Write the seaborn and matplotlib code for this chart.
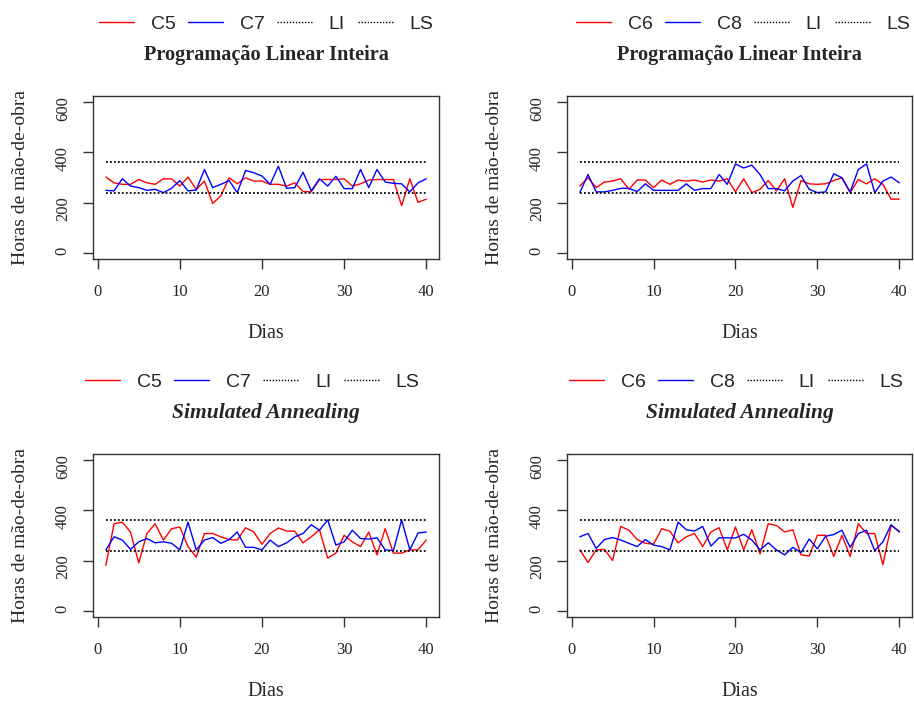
#!/usr/bin/env python3
# -*- coding: utf-8 -*-
"""
Horas de mão-de-obra por dia - comparação PLI x Simulated Annealing
(4 painéis, estilo gráfico base do R)
"""

import pandas as pd
import seaborn as sns
from matplotlib import pyplot as plt
from matplotlib.lines import Line2D

sns.set_theme(style="white")
plt.rcParams["font.family"] = ["Liberation Serif", "DejaVu Serif"]

DIAS = list(range(1, 41))
LI = 240
LS = 360

# Programação Linear Inteira
C5_PLI = [302, 279, 273, 273, 292, 279, 273, 295, 295, 266, 302, 253, 286, 197, 227, 299, 275, 299, 286, 286,
          273, 273, 266, 279, 244, 243, 292, 292, 292, 295, 266, 275, 290, 292, 292, 292, 188, 295, 201, 214]
C7_PLI = [249, 247, 295, 266, 260, 249, 253, 240, 257, 288, 247, 250, 332, 260, 273, 288, 240, 328, 319, 306,
          273, 345, 257, 260, 321, 247, 295, 266, 305, 256, 256, 332, 260, 332, 282, 277, 275, 243, 279, 295]
C6_PLI = [266, 299, 260, 282, 286, 295, 253, 290, 290, 260, 290, 273, 290, 286, 290, 282, 290, 286, 295, 243,
          295, 240, 253, 288, 247, 295, 181, 288, 275, 273, 275, 288, 299, 240, 292, 275, 295, 273, 214, 214]
C8_PLI = [240, 312, 243, 243, 249, 257, 257, 244, 275, 249, 249, 249, 249, 275, 249, 256, 256, 312, 273, 354,
          338, 349, 312, 256, 256, 247, 286, 308, 253, 240, 243, 315, 299, 243, 332, 354, 240, 286, 302, 279]

# Simulated Annealing
C5_SA = [181, 347, 353, 314, 191, 308, 347, 282, 327, 334, 256, 214, 308, 308, 295, 284, 282, 331, 314, 265,
         308, 330, 318, 317, 271, 295, 323, 210, 230, 301, 275, 256, 314, 223, 327, 230, 230, 243, 243, 282]
C7_SA = [243, 295, 282, 245, 275, 288, 271, 275, 269, 243, 353, 243, 282, 292, 269, 284, 314, 253, 253, 243,
         282, 256, 271, 295, 308, 343, 321, 362, 262, 275, 321, 288, 286, 291, 243, 240, 362, 243, 310, 314]
C6_SA = [243, 193, 243, 245, 201, 336, 321, 284, 269, 266, 327, 317, 271, 295, 308, 256, 314, 331, 243, 334,
         243, 323, 227, 347, 340, 314, 323, 223, 219, 301, 301, 217, 301, 217, 347, 308, 308, 184, 340, 317]
C8_SA = [295, 308, 249, 284, 292, 282, 269, 256, 284, 262, 256, 243, 353, 323, 318, 336, 258, 291, 291, 290,
         305, 282, 243, 271, 243, 223, 253, 232, 286, 247, 297, 304, 321, 253, 308, 321, 240, 275, 343, 314]

TITULO_PLI = "Programação Linear Inteira"
TITULO_SA = "Simulated Annealing"

# (nome1, serie1, nome2, serie2, titulo, italico, [left, bottom, width, height], centro da legenda)
PAINEIS = [
    ("C5", C5_PLI, "C7", C7_PLI, TITULO_PLI, False, [0.1018, 0.6305, 0.3786, 0.2325], 0.50),
    ("C6", C6_PLI, "C8", C8_PLI, TITULO_PLI, False, [0.6204, 0.6305, 0.3775, 0.2325], 0.51),
    ("C5", C5_SA, "C7", C7_SA, TITULO_SA, True, [0.1018, 0.1198, 0.3786, 0.2325], 0.46),
    ("C6", C6_SA, "C8", C8_SA, TITULO_SA, True, [0.6204, 0.1198, 0.3775, 0.2325], 0.49),
]


def desenha_painel(fig, nome1, s1, nome2, s2, titulo, italico, pos, leg_x):
    ax = fig.add_axes(pos)
    df = pd.DataFrame({
        "Dia": DIAS + DIAS,
        "Horas": s1 + s2,
        "Serie": [nome1] * len(DIAS) + [nome2] * len(DIAS),
    })
    sns.lineplot(data=df, x="Dia", y="Horas", hue="Serie",
                 palette={nome1: "#ff0000", nome2: "#0000ff"},
                 legend=False, linewidth=1.0, ax=ax)
    ax.hlines([LI, LS], DIAS[0], DIAS[-1], colors="black",
              linestyles=[(0, (1, 1.2))], linewidth=1.3)

    ax.set_xlim(-0.56, 41.56)
    ax.set_ylim(-24, 624)
    ax.set_xticks([0, 10, 20, 30, 40])
    ax.set_yticks([0, 200, 400, 600])
    ax.tick_params(axis="both", direction="out", length=7, width=1, color="#333333",
                   labelsize=12, bottom=True, left=True)
    ax.tick_params(axis="x", pad=11)
    ax.tick_params(axis="y", pad=9, labelrotation=90)
    for sp in ax.spines.values():
        sp.set_color("#333333")
        sp.set_linewidth(1.0)
    ax.set_xlabel("")
    ax.set_ylabel("")
    ax.text(0.5, -0.454, "Dias", transform=ax.transAxes, ha="center", va="center", fontsize=14.5)
    ax.text(-0.211, 0.5, "Horas de mão-de-obra", transform=ax.transAxes, ha="center", va="center",
            rotation=90, fontsize=14)
    ax.text(0.5, 1.25, titulo, transform=ax.transAxes, ha="center", va="center",
            fontsize=15.5 if italico else 14.6,
            fontweight="bold", fontstyle="italic" if italico else "normal")

    handles = [
        Line2D([], [], color="#ff0000", lw=1.0),
        Line2D([], [], color="#0000ff", lw=1.0),
        Line2D([], [], color="black", lw=1.0, ls=(0, (1, 1.2))),
        Line2D([], [], color="black", lw=1.0, ls=(0, (1, 1.2))),
    ]
    ax.legend(handles, [nome1, nome2, "LI", "LS"], loc="center", bbox_to_anchor=(leg_x, 1.44),
              ncol=4, frameon=False, handlelength=1.8, handletextpad=0.85, columnspacing=0.65,
              prop={"family": "Liberation Sans", "size": 14})
    return ax


def main():
    fig = plt.figure(figsize=(9.14, 7.01), dpi=100)
    for painel in PAINEIS:
        desenha_painel(fig, *painel)
    fig.savefig("out.png", dpi=100)
    plt.close(fig)


if __name__ == "__main__":
    main()
